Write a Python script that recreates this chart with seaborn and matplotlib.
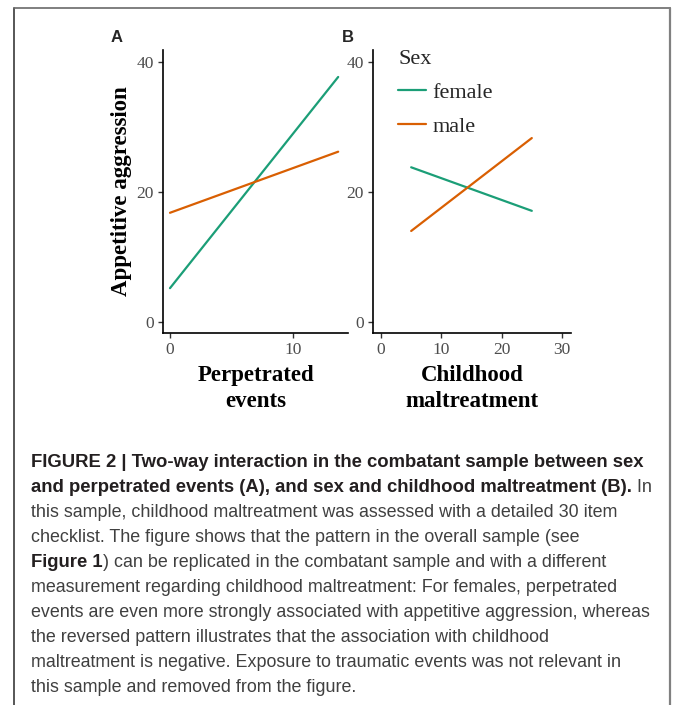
import matplotlib
matplotlib.use('Agg')
import matplotlib.pyplot as plt
from matplotlib.lines import Line2D
import seaborn as sns
import pandas as pd

# fitted lines (two end points per sex)
SEX = ['female', 'female', 'male', 'male']
PERP_X = [0, 13.7, 0, 13.7]
PERP_Y = [5.2, 37.7, 16.8, 26.2]
CM_X = [5, 25, 5, 25]
CM_Y = [23.8, 17.1, 14.0, 28.3]
PALETTE = {'female': '#1b9e77', 'male': '#d95f02'}

Y_TICKS = [0, 20, 40]
PERP_TICKS = [0, 10]
CM_TICKS = [0, 10, 20, 30]

CAPTION = [
    [("FIGURE 2 | Two-way interaction in the combatant sample between sex", True)],
    [("and perpetrated events (A), and sex and childhood maltreatment (B).", True), (" In", False)],
    [("this sample, childhood maltreatment was assessed with a detailed 30 item", False)],
    [("checklist. The figure shows that the pattern in the overall sample (see", False)],
    [("Figure 1", True), (") can be replicated in the combatant sample and with a different", False)],
    [("measurement regarding childhood maltreatment: For females, perpetrated", False)],
    [("events are even more strongly associated with appetitive aggression, whereas", False)],
    [("the reversed pattern illustrates that the association with childhood", False)],
    [("maltreatment is negative. Exposure to traumatic events was not relevant in", False)],
    [("this sample and removed from the figure.", False)],
]

W, H = 673, 705
SERIF = 'Liberation Serif'
SANS = 'Liberation Sans'


def style_axis(ax, xticks, xlim):
    ax.set_xlim(*xlim)
    ax.set_ylim(-1.7, 41.85)
    ax.set_xticks(xticks)
    ax.set_yticks(Y_TICKS)
    sns.despine(ax=ax)
    for s in ['left', 'bottom']:
        ax.spines[s].set_linewidth(1.2)
        ax.spines[s].set_color('black')
    ax.tick_params(length=3.5, width=1.0, color='#333333', labelcolor='#4d4d4d',
                   labelsize=12.5, pad=3)
    for lab in ax.get_xticklabels() + ax.get_yticklabels():
        lab.set_family(SERIF)


def draw_caption(fig):
    renderer = fig.canvas.get_renderer()
    y = 467
    for segs in CAPTION:
        x = 31
        for text, bold in segs:
            t = fig.text(x / W, 1 - y / H, text, ha='left', va='baseline',
                         family=SANS, fontsize=13.3 if bold else 12.9,
                         weight='bold' if bold else 'normal',
                         color='#231f20' if bold else '#404040')
            x = t.get_window_extent(renderer).x1
        y += 25


def main():
    sns.set_style('ticks')
    plt.rcParams['font.family'] = [SERIF, 'DejaVu Serif']

    df_a = pd.DataFrame({'sex': SEX, 'x': PERP_X, 'y': PERP_Y})
    df_b = pd.DataFrame({'sex': SEX, 'x': CM_X, 'y': CM_Y})

    fig = plt.figure(figsize=(W / 100, H / 100), dpi=100)
    ax_a = fig.add_axes([163 / W, 1 - 333 / H, 185 / W, 283 / H])
    ax_b = fig.add_axes([373 / W, 1 - 333 / H, 198 / W, 283 / H])

    sns.lineplot(data=df_a, x='x', y='y', hue='sex', palette=PALETTE, ax=ax_a,
                 linewidth=1.6, legend=False)
    sns.lineplot(data=df_b, x='x', y='y', hue='sex', palette=PALETTE, ax=ax_b,
                 linewidth=1.6, legend=False)

    style_axis(ax_a, PERP_TICKS, (-0.57, 14.5))
    style_axis(ax_b, CM_TICKS, (-1.33, 31.5))

    lab_kw = dict(family=SERIF, fontsize=16.5, weight='bold', color='black')
    ax_a.set_ylabel('Appetitive aggression', labelpad=3, **lab_kw)
    ax_a.set_xlabel('Perpetrated\nevents', labelpad=5, linespacing=1.3, **lab_kw)
    ax_b.set_ylabel('')
    ax_b.set_xlabel('Childhood\nmaltreatment', labelpad=5, linespacing=1.3, **lab_kw)

    handles = [Line2D([], [], color=PALETTE[s], lw=1.6) for s in ['female', 'male']]
    ax_b.legend(handles, ['female', 'male'], title='Sex', loc='upper left',
                bbox_to_anchor=(398 / W, 1 - 50 / H), bbox_transform=fig.transFigure,
                frameon=False, prop={'family': SERIF, 'size': 16},
                title_fontproperties={'family': SERIF, 'size': 16},
                alignment='left', handlelength=1.25, handletextpad=0.3,
                labelspacing=0.6, borderpad=0, borderaxespad=0)

    fig.text(117 / W, 1 - 37 / H, 'A', ha='center', va='center', family=SANS,
             weight='bold', fontsize=12)
    fig.text(348 / W, 1 - 37 / H, 'B', ha='center', va='center', family=SANS,
             weight='bold', fontsize=12)

    # thin frame around the figure box
    fx0, fx1, fy = 14 / W, 670 / W, 1 - 8 / H
    fig.add_artist(Line2D([fx0, fx0], [0, fy], transform=fig.transFigure, color='#3a3a3a', lw=1.2))
    fig.add_artist(Line2D([fx0, fx1], [fy, fy], transform=fig.transFigure, color='#6a6a6a', lw=1.2))
    fig.add_artist(Line2D([fx1, fx1], [0, fy], transform=fig.transFigure, color='#808080', lw=1.6))

    draw_caption(fig)
    fig.savefig('out.png', dpi=100)
    plt.close(fig)


if __name__ == "__main__":
    main()
